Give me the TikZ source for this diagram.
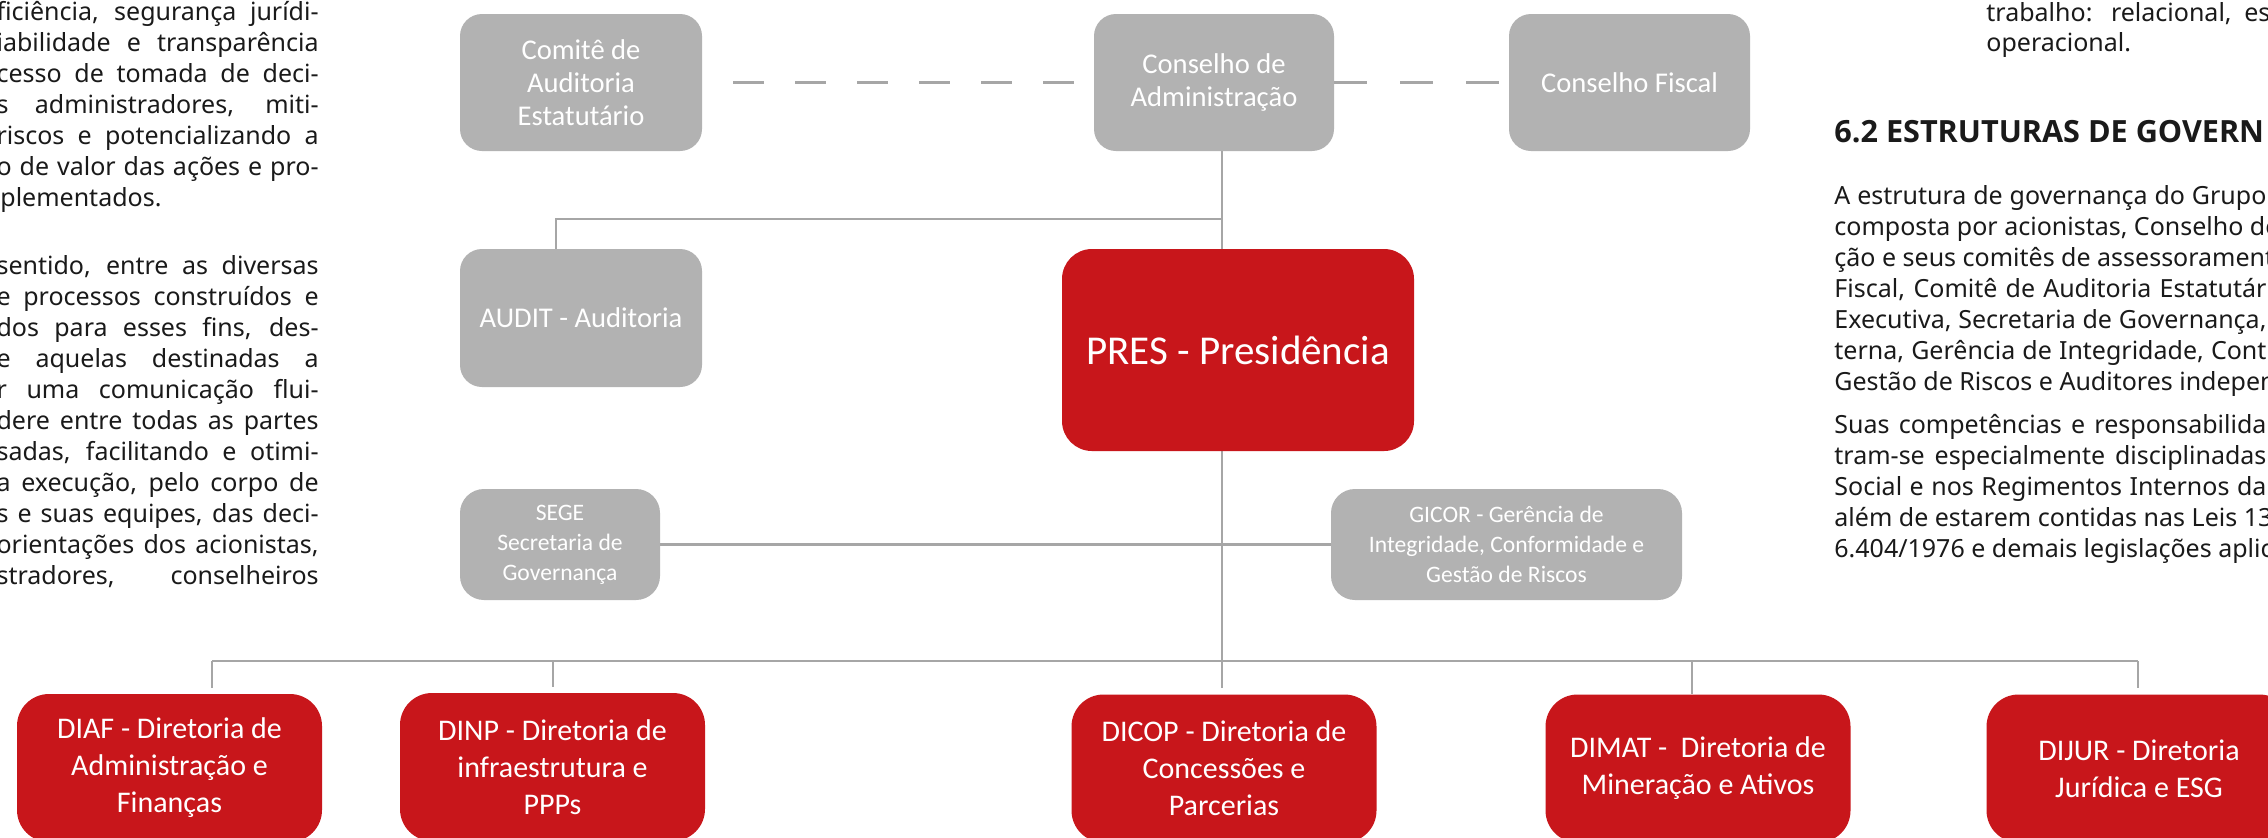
\documentclass[tikz,border=0pt]{standalone}
\usepackage{fontspec}
\setmainfont{Noto Sans}
\newfontfamily\boxfont{Carlito}
\newfontfamily\headfont{Open Sans}
\definecolor{boxgray}{HTML}{B2B2B2}
\definecolor{boxred}{HTML}{C8161B}
\definecolor{linegray}{HTML}{A6A6A6}
\definecolor{bodyink}{HTML}{1A1A1A}
\pgfdeclarelayer{bg}
\pgfdeclarelayer{lines}
\pgfsetlayers{bg,lines,main}
\newcommand\Lline[1]{\hbox to 161pt{\hskip 0pt minus 1fill #1}}
\newcommand\Rline[2]{\hbox to #1{#2\hskip 0pt minus 1fill}}
\tikzset{
  gbox/.style={fill=boxgray, text=white, rounded corners=11pt, inner sep=0pt, align=center,
    font=\boxfont\fontsize{14.3}{16.5}\selectfont},
  gsmall/.style={gbox, rounded corners=12pt, font=\boxfont\fontsize{11.8}{15}\selectfont},
  rbox/.style={fill=boxred, text=white, rounded corners=16pt, inner sep=0pt, align=center,
    minimum width=152.5pt, minimum height=74pt, font=\boxfont\fontsize{15}{18.5}\selectfont},
  conn/.style={draw=linegray, line width=1.25pt},
  dashconn/.style={draw=linegray, line width=1.4pt},
  body/.style={inner sep=0pt, text=bodyink, font=\fontsize{12.5}{15.5}\selectfont},
  bodyL/.style={body, anchor=base east},
  bodyR/.style={body, anchor=base west},
}
\begin{document}
\begin{tikzpicture}[x=0.5pt,y=-0.5pt]
\useasboundingbox (0,0) rectangle (2268,837);
\begin{pgfonlayer}{bg}
\fill[white] (0,0) rectangle (2268,837);
\end{pgfonlayer}

% ---------- left text column ----------
\node[bodyL] (l1) at (319,20) {\Lline{ficiência, segurança jurídi-}};
\node[bodyL] (l2) at (319,51) {\Lline{iabilidade e transparência}};
\node[bodyL] (l3) at (319,82) {\Lline{cesso de tomada de deci-}};
\node[bodyL] (l4) at (319,113) {\Lline{s administradores, miti-}};
\node[bodyL] (l5) at (319,144) {\Lline{riscos e potencializando a}};
\node[bodyL] (l6) at (319,175) {\Lline{o de valor das ações e pro-}};
\node[bodyR] (l7) at (0,206) {plementados.};
\node[bodyL] (m1) at (319,274) {\Lline{sentido, entre as diversas}};
\node[bodyL] (m2) at (319,305) {\Lline{e processos construídos e}};
\node[bodyL] (m3) at (319,336) {\Lline{dos para esses fins, des-}};
\node[bodyL] (m4) at (319,367) {\Lline{e aquelas destinadas a}};
\node[bodyL] (m5) at (319,398) {\Lline{r uma comunicação flui-}};
\node[bodyL] (m6) at (319,429) {\Lline{dere entre todas as partes}};
\node[bodyL] (m7) at (319,460) {\Lline{sadas, facilitando e otimi-}};
\node[bodyL] (m8) at (319,491) {\Lline{a execução, pelo corpo de}};
\node[bodyL] (m9) at (319,522) {\Lline{s e suas equipes, das deci-}};
\node[bodyL] (m10) at (319,553) {\Lline{orientações dos acionistas,}};
\node[bodyL] (m11) at (319,584) {\Lline{stradores, conselheiros}};

% ---------- right text column ----------
\node[bodyR] (r0) at (1986,21) {\Rline{142pt}{trabalho: relacional, es}};
\node[bodyR] (r0b) at (1986,51) {operacional.};
\node[anchor=base west, inner sep=0pt, text=bodyink, font=\headfont\bfseries\fontsize{15.3}{18}\selectfont] (head) at (1834,142) {6.2 ESTRUTURAS DE GOVERN};
\node[bodyR] (r1) at (1834,204) {\Rline{216pt}{A estrutura de governança do Grupo}};
\node[bodyR] (r2) at (1834,235) {\Rline{216pt}{composta por acionistas, Conselho de}};
\node[bodyR] (r3) at (1834,266) {\Rline{216pt}{ção e seus comitês de assessorament}};
\node[bodyR] (r4) at (1834,297) {\Rline{216pt}{Fiscal, Comitê de Auditoria Estatutár}};
\node[bodyR] (r5) at (1834,328) {\Rline{216pt}{Executiva, Secretaria de Governança,}};
\node[bodyR] (r6) at (1834,359) {\Rline{216pt}{terna, Gerência de Integridade, Cont}};
\node[bodyR] (r7) at (1834,390) {\Rline{216pt}{Gestão de Riscos e Auditores independ}};
\node[bodyR] (s1) at (1834,433) {\Rline{216pt}{Suas competências e responsabilida}};
\node[bodyR] (s2) at (1834,464) {\Rline{216pt}{tram-se especialmente disciplinadas}};
\node[bodyR] (s3) at (1834,495) {\Rline{216pt}{Social e nos Regimentos Internos da}};
\node[bodyR] (s4) at (1834,526) {\Rline{216pt}{além de estarem contidas nas Leis 13}};
\node[bodyR] (s5) at (1834,557) {\Rline{216pt}{6.404/1976 e demais legislações aplic}};

% ---------- org chart boxes ----------
\node[gbox, minimum width=121pt, minimum height=68.5pt] (comite) at (581,82.5) {Comitê de\\Auditoria\\Estatutário};
\node[gbox, minimum width=120pt, minimum height=68.5pt] (cadm) at (1214,82.5) {Conselho de\\Administração};
\node[gbox, minimum width=120.5pt, minimum height=68.5pt] (fiscal) at (1629.5,82.5) {Conselho Fiscal};
\node[gbox, minimum width=121pt, minimum height=69pt] (audit) at (581,318) {AUDIT - Auditoria};
\node[rbox, rounded corners=15pt, minimum width=176pt, minimum height=101pt,
  font=\boxfont\fontsize{20.5}{24}\selectfont] (pres) at (1238,350) {PRES - Presidência};
\node[gsmall, minimum width=100pt, minimum height=55.5pt] (sege) at (560,544.5) {SEGE\\Secretaria de\\Governança};
\node[gsmall, minimum width=175.5pt, minimum height=55.5pt] (gicor) at (1506.5,544.5) {GICOR - Gerência de\\Integridade, Conformidade e\\Gestão de Riscos};
\node[rbox] (diaf) at (169.5,768) {DIAF - Diretoria de\\Administração e\\Finanças};
\node[rbox] (dinp) at (552.5,767) {DINP - Diretoria de\\infraestrutura e\\PPPs};
\node[rbox] (dicop) at (1224,768.5) {DICOP - Diretoria de\\Concessões e\\Parcerias};
\node[rbox] (dimat) at (1698,768.5) {DIMAT - \ Diretoria de\\Mineração e Ativos};
\node[rbox] (dijur) at (2139,768.5) {DIJUR - Diretoria\\Jurídica e ESG};

% ---------- connectors ----------
\coordinate (jaud) at (1222,219);
\coordinate (audtop) at (556,219);
\coordinate (spinebot) at (1222,661);
\coordinate (busL) at (212,661);
\coordinate (busR) at (2138,661);
\coordinate (jdinp) at (553,661);
\coordinate (jdimat) at (1692,661);
\begin{pgfonlayer}{lines}
\draw[conn] (cadm.south -| spinebot) -- (spinebot);
\draw[conn] (jaud) -- (audtop) -- (audtop |- audit.north);
\draw[conn] (sege) -- (gicor);
\draw[conn] (busL) -- (busR);
\draw[conn, shorten >=3pt] (busL) -- (busL |- diaf.north);
\draw[conn, shorten >=3pt] (jdinp) -- (jdinp |- dinp.north);
\draw[conn, shorten >=3pt] (spinebot) -- (spinebot |- dicop.north);
\draw[conn] (jdimat) -- (jdimat |- dimat.north);
\draw[conn, shorten >=3pt] (busR) -- (busR |- dijur.north);
\draw[dashconn, dash pattern=on 15.5pt off 15.5pt, dash phase=15.5pt] (comite) -- (cadm);
\draw[dashconn, dash pattern=on 16.5pt off 16.5pt] (cadm) -- (fiscal);
\end{pgfonlayer}
\end{tikzpicture}
\end{document}
